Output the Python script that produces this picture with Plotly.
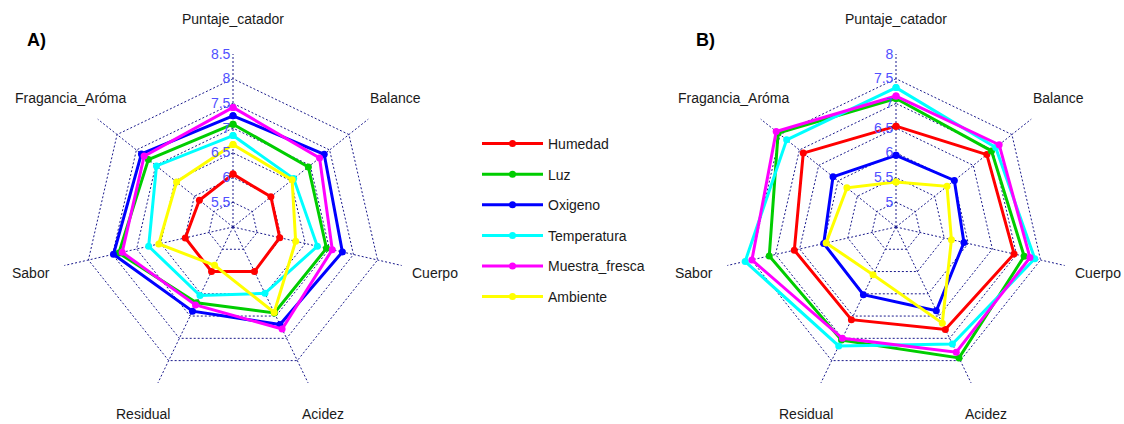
import numpy as np
import plotly.graph_objects as go

categories = ["Puntaje_catador", "Fragancia_Aróma", "Sabor", "Residual", "Acidez", "Cuerpo", "Balance"]
series_names = ["Humedad", "Luz", "Oxigeno", "Temperatura", "Muestra_fresca", "Ambiente"]
series_colors = ["#FF0000", "#00CD00", "#0000FF", "#00FFFF", "#FF00FF", "#FFFF00"]

# Panel A values (order of categories)
a_humedad = [6.07, 5.87, 5.99, 6.00, 6.00, 5.97, 5.98]
a_luz = [7.08, 7.19, 7.37, 6.70, 6.93, 6.94, 6.95]
a_oxigeno = [7.25, 7.37, 7.48, 6.89, 7.19, 7.27, 7.36]
a_temperatura = [6.85, 6.98, 6.75, 6.54, 6.49, 6.75, 6.57]
a_muestra = [7.42, 7.30, 7.30, 6.75, 7.29, 7.06, 7.24]
a_ambiente = [6.67, 6.46, 6.54, 5.86, 6.92, 6.30, 6.53]

# Panel B values
b_humedad = [6.54, 6.90, 6.61, 6.58, 6.80, 6.95, 6.85]
b_luz = [7.10, 7.55, 7.13, 7.04, 7.44, 7.16, 6.97]
b_oxigeno = [5.95, 6.13, 6.00, 6.02, 6.38, 5.91, 6.01]
b_temperatura = [7.32, 7.33, 7.63, 7.17, 7.13, 7.38, 7.08]
b_muestra = [7.15, 7.60, 7.49, 7.00, 7.31, 7.28, 7.17]
b_ambiente = [5.41, 5.77, 5.95, 5.57, 6.66, 5.65, 5.82]

a_ticks = [5.5, 6, 6.5, 7, 7.5, 8, 8.5]
a_ticktext = ["5.5", "6", "6.5", "7", "7.5", "8", "8.5"]
b_ticks = [5, 5.5, 6, 6.5, 7, 7.5, 8]
b_ticktext = ["5", "5.5", "6", "6.5", "7", "7.5", "8"]

panel_a = [a_humedad, a_luz, a_oxigeno, a_temperatura, a_muestra, a_ambiente]
panel_b = [b_humedad, b_luz, b_oxigeno, b_temperatura, b_muestra, b_ambiente]

W, H = 1124, 424
FONT = "Liberation Sans, Arial, sans-serif"
GRID = "#1a1a8c"

fig = go.Figure()
for panel, polar_id, first in [(panel_a, "polar", True), (panel_b, "polar2", False)]:
    for name, color, vals in zip(series_names, series_colors, panel):
        fig.add_trace(go.Scatterpolar(
            r=vals + vals[:1],
            theta=categories + categories[:1],
            mode="lines+markers",
            line=dict(color=color, width=3),
            marker=dict(color=color, size=7),
            name=name,
            legendgroup=name,
            showlegend=first,
            subplot=polar_id,
        ))

# geometry of the two radar panels (pixels)
R = 173
centers = [(233, 227), (896, 227)]


def dom(c):
    cx, cy = c
    return dict(x=[(cx - R) / W, (cx + R) / W], y=[1 - (cy + R) / H, 1 - (cy - R) / H])


def polar_layout(c, rng, tv, tt):
    return dict(
        domain=dom(c),
        bgcolor="white",
        gridshape="linear",
        radialaxis=dict(
            range=rng, tickvals=tv, ticktext=tt, angle=90, tickangle=90,
            side="counterclockwise", showline=False, ticks="",
            showgrid=True, gridcolor=GRID, griddash="2px,2px", gridwidth=1,
            tickfont=dict(family=FONT, size=14, color="#5050ff"),
        ),
        angularaxis=dict(
            direction="counterclockwise", rotation=90, showline=False,
            showticklabels=False, ticks="",
            showgrid=True, gridcolor=GRID, griddash="2px,2px", gridwidth=1,
        ),
    )


annotations = []
n = len(categories)
for c in centers:
    cx, cy = c
    for i, cat in enumerate(categories):
        ang = np.pi / 2 + 2 * np.pi * i / n
        px = cx + 1.2 * R * np.cos(ang)
        py = cy - 1.2 * R * np.sin(ang)
        annotations.append(dict(
            x=px / W, y=1 - py / H, xref="paper", yref="paper",
            text=cat, showarrow=False, xanchor="center", yanchor="middle",
            font=dict(family=FONT, size=14, color="#1a1a1a"),
        ))

for label, lx in [("A)", 36), ("B)", 705)]:
    annotations.append(dict(
        x=lx / W, y=1 - 40 / H, xref="paper", yref="paper", text="<b>" + label + "</b>",
        showarrow=False, xanchor="center", yanchor="middle",
        font=dict(family=FONT, size=18, color="black"),
    ))

fig.update_layout(
    width=W, height=H,
    margin=dict(l=0, r=0, t=0, b=0),
    paper_bgcolor="white",
    plot_bgcolor="white",
    polar=polar_layout(centers[0], [5.0, 8.5001], a_ticks, a_ticktext),
    polar2=polar_layout(centers[1], [4.5, 8.0001], b_ticks, b_ticktext),
    annotations=annotations,
    showlegend=True,
    legend=dict(
        x=477 / W, y=1 - 128 / H, xanchor="left", yanchor="top",
        bgcolor="rgba(0,0,0,0)", traceorder="grouped", tracegroupgap=9.4,
        font=dict(family=FONT, size=14, color="#1a1a1a"),
        itemwidth=61,
    ),
)

fig.write_html(
    "out.html",
    config={"displayModeBar": False},
    post_script="document.body.style.margin='0';document.body.style.overflow='hidden';",
)
